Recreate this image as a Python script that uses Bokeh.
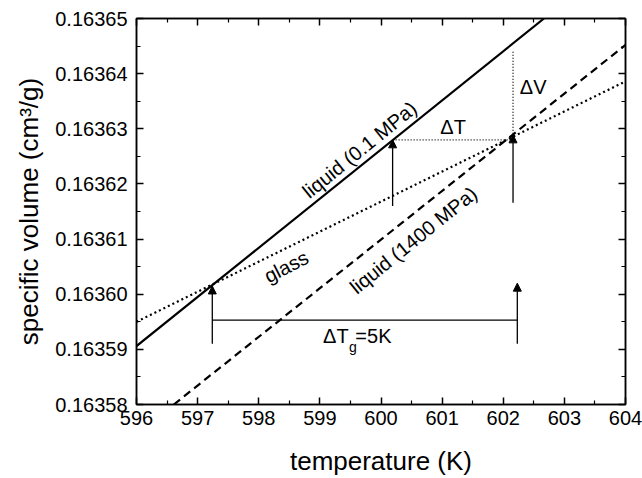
from bokeh.plotting import figure
from bokeh.models import (FixedTicker, PrintfTickFormatter, LinearAxis, Range1d,
                          Arrow, NormalHead, ColumnDataSource)
from bokeh.core.properties import value
from bokeh.embed import file_html
from bokeh.resources import INLINE

# ---- data ----
x_ticks = [596, 597, 598, 599, 600, 601, 602, 603, 604]
x_minor = [596.5, 597.5, 598.5, 599.5, 600.5, 601.5, 602.5, 603.5]
y_ticks = [0.16358, 0.16359, 0.16360, 0.16361, 0.16362, 0.16363, 0.16364, 0.16365]
y_minor = [0.163585, 0.163595, 0.163605, 0.163615, 0.163625, 0.163635, 0.163645]

x_title = "temperature (K)"
y_title = "specific volume (cm³/g)"

# liquid at 0.1 MPa (solid)
T_liq01 = [596.0, 602.667]
V_liq01 = [0.1635906, 0.163650]
# liquid at 1400 MPa (dashed)
T_liq1400 = [596.61, 604.0]
V_liq1400 = [0.163580, 0.1636452]
# glass (dotted)
T_glass = [596.0, 604.0]
V_glass = [0.163595, 0.1636386]

# arrows (T, v_start, v_end)
arrow_T = [597.24, 602.23, 600.19, 602.16]
arrow_v0 = [0.163591, 0.163591, 0.163616, 0.1636166]
arrow_v1 = [0.1636015, 0.163602, 0.163628, 0.1636289]

# Delta T_g bar
Tg_bar_T = [597.24, 602.23]
Tg_bar_V = [0.1635953, 0.1635953]
# Delta T dotted bar
dT_T = [600.19, 602.16]
dT_V = [0.163628, 0.163628]
# Delta V dotted bar
dV_T = [602.16, 602.16]
dV_V = [0.163628, 0.163644]

FONT = "Liberation Sans"

p = figure(width=642, height=478, output_backend="svg", toolbar_location=None,
           x_range=Range1d(596, 604), y_range=Range1d(0.16358, 0.16365),
           min_border_left=136, min_border_right=17, min_border_top=18,
           min_border_bottom=72)
p.xgrid.visible = False
p.ygrid.visible = False
p.outline_line_color = "black"
p.outline_line_width = 1.5
p.background_fill_color = "white"
p.border_fill_color = "white"

def style_axis(ax):
    ax.major_tick_in = 7
    ax.major_tick_out = 0
    ax.minor_tick_in = 4
    ax.minor_tick_out = 0
    ax.axis_line_width = 1.5
    ax.major_tick_line_width = 1.5
    ax.minor_tick_line_width = 1.2
    ax.axis_line_color = "black"
    ax.major_tick_line_color = "black"
    ax.minor_tick_line_color = "black"
    ax.major_label_text_font = FONT
    ax.major_label_text_font_size = "20px"
    ax.major_label_text_color = "black"
    ax.axis_label_text_font = FONT
    ax.axis_label_text_font_style = "normal"
    ax.axis_label_text_font_size = "26px"
    ax.axis_label_text_color = "black"

xax = p.xaxis[0]
xax.ticker = FixedTicker(ticks=x_ticks, minor_ticks=x_minor)
style_axis(xax)
xax.axis_label = x_title
xax.major_label_standoff = 6
xax.axis_label_standoff = 18

yax = p.yaxis[0]
yax.ticker = FixedTicker(ticks=y_ticks, minor_ticks=y_minor)
yax.formatter = PrintfTickFormatter(format="%.5f")
style_axis(yax)
yax.axis_label = y_title
yax.major_label_standoff = 9
yax.axis_label_standoff = 8

top = LinearAxis(ticker=FixedTicker(ticks=x_ticks, minor_ticks=x_minor),
                 major_label_overrides={t: "" for t in x_ticks})
style_axis(top)
top.major_label_standoff = 0
p.add_layout(top, "above")
right = LinearAxis(ticker=FixedTicker(ticks=y_ticks, minor_ticks=y_minor),
                   major_label_overrides={t: "" for t in y_ticks})
style_axis(right)
right.major_label_standoff = 0
p.add_layout(right, "right")

# curves
p.line(T_liq01, V_liq01, line_color="black", line_width=2.2)
p.line(T_liq1400, V_liq1400, line_color="black", line_width=2.2, line_dash="8 5")
p.line(T_glass, V_glass, line_color="black", line_width=2.2, line_dash="2 3")

# bars
p.line(Tg_bar_T, Tg_bar_V, line_color="black", line_width=1.3)
p.line(dT_T, dT_V, line_color="black", line_width=1.3, line_dash="1 2")
p.line(dV_T, dV_V, line_color="black", line_width=1.3, line_dash="1 2")

# arrows
src = ColumnDataSource(dict(x0=arrow_T, y0=arrow_v0, x1=arrow_T, y1=arrow_v1))
p.add_layout(Arrow(end=NormalHead(size=8, fill_color="black", line_color="black", line_width=1),
                   x_start="x0", y_start="y0", x_end="x1", y_end="y1",
                   line_width=1.3, line_color="black", source=src))

# labels
txt = dict(text_font=value(FONT), text_font_size="20px", text_color="black")
p.text(x=[599.65], y=[0.1636262], text=["liquid (0.1 MPa)"], angle=39, angle_units="deg",
       text_align="center", text_baseline="middle", **txt)
p.text(x=[598.45], y=[0.163605], text=["glass"], angle=27, angle_units="deg",
       text_align="center", text_baseline="middle", **txt)
p.text(x=[600.53], y=[0.1636098], text=["liquid (1400 MPa)"], angle=39, angle_units="deg",
       text_align="center", text_baseline="middle", **txt)
p.text(x=[601.18], y=[0.1636303], text=["ΔT"], text_align="center", text_baseline="middle", **txt)
p.text(x=[602.49], y=[0.1636375], text=["ΔV"], text_align="center", text_baseline="middle", **txt)
p.text(x=[599.47], y=[0.1635925], text=["ΔT"], text_align="right", text_baseline="middle", **txt)
p.text(x=[599.475], y=[0.1635905], text=["g"], text_align="left", text_baseline="middle",
       text_font=value(FONT), text_font_size="14px", text_color="black")
p.text(x=[599.58], y=[0.1635925], text=["=5K"], text_align="left", text_baseline="middle", **txt)

open("out.html", "w").write(file_html(p, INLINE))
